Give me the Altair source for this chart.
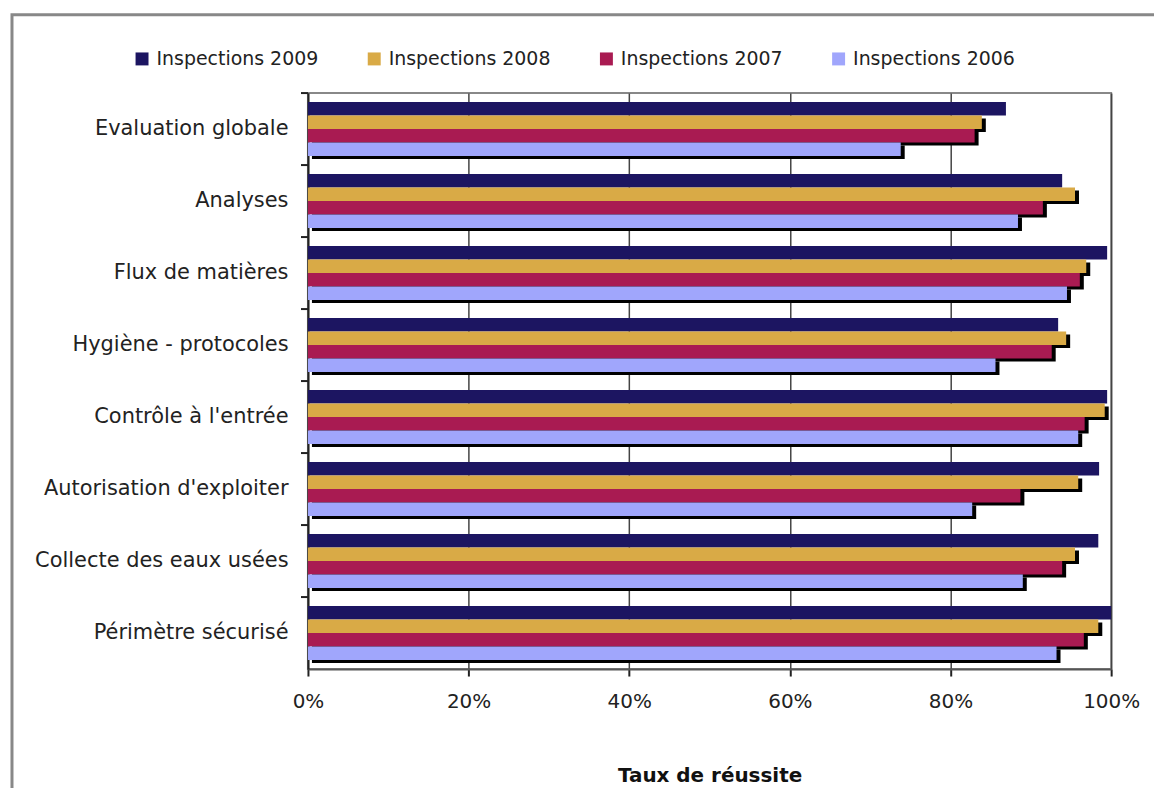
import altair as alt
import pandas as pd

categories = [
    "Evaluation globale",
    "Analyses",
    "Flux de matières",
    "Hygiène - protocoles",
    "Contrôle à l'entrée",
    "Autorisation d'exploiter",
    "Collecte des eaux usées",
    "Périmètre sécurisé",
]
series = ["Inspections 2009", "Inspections 2008", "Inspections 2007", "Inspections 2006"]
insp_2009 = [0.869, 0.939, 0.995, 0.934, 0.995, 0.985, 0.984, 1.000]
insp_2008 = [0.839, 0.955, 0.969, 0.944, 0.992, 0.959, 0.955, 0.984]
insp_2007 = [0.830, 0.915, 0.961, 0.926, 0.967, 0.887, 0.939, 0.966]
insp_2006 = [0.738, 0.884, 0.945, 0.856, 0.959, 0.827, 0.890, 0.932]
colors = ["#1c1561", "#d9aa46", "#a91b52", "#a0a6fc"]

rows = []
for s, vals in zip(series, [insp_2009, insp_2008, insp_2007, insp_2006]):
    for c, v in zip(categories, vals):
        rows.append({"categorie": c, "serie": s, "taux": v})
df = pd.DataFrame(rows)
cat_df = pd.DataFrame({"categorie": categories})

W, H = 806, 578
FONT = "DejaVu Sans"
step = H / 8.0
bw = step * 0.75

x_enc = alt.X(
    "taux:Q",
    scale=alt.Scale(domain=[0, 1], nice=False),
    axis=alt.Axis(
        format="%",
        values=[0, 0.2, 0.4, 0.6, 0.8, 1.0],
        title="Taux de réussite",
        titleFont=FONT,
        titleFontSize=20,
        titleFontWeight="bold",
        titleColor="#111",
        titlePadding=54,
        labelFont=FONT,
        labelFontSize=20,
        labelColor="#222",
        labelPadding=16,
        labelFlush=False,
        tickSize=7,
        tickColor="#222",
        tickWidth=2,
        domainColor="#555",
        domainWidth=2,
        grid=True,
        gridColor="#444",
        gridWidth=1.5,
    ),
)
y_enc = alt.Y(
    "categorie:N",
    sort=categories,
    scale=alt.Scale(paddingInner=0.25, paddingOuter=0.125),
    axis=alt.Axis(
        title=None,
        labelFont=FONT,
        labelFontSize=21,
        labelColor="#222",
        labelPadding=20,
        labelLimit=400,
        ticks=False,
        domainColor="#222",
        domainWidth=2,
    ),
)

base = alt.Chart(df)

shadow = (
    base.transform_filter(alt.datum.serie != "Inspections 2009")
    .mark_bar(color="black", xOffset=4)
    .encode(
        x=x_enc,
        y=y_enc,
        yOffset=alt.YOffset(
            "serie:N",
            sort=series,
            scale=alt.Scale(domain=series, range=[3, bw + 3], paddingInner=0, paddingOuter=0),
        ),
    )
)

bars = base.mark_bar(opacity=1).encode(
    x=x_enc,
    y=y_enc,
    yOffset=alt.YOffset(
        "serie:N",
        sort=series,
        scale=alt.Scale(domain=series, range=[0, bw], paddingInner=0, paddingOuter=0),
    ),
    color=alt.Color(
        "serie:N",
        sort=series,
        scale=alt.Scale(domain=series, range=colors),
        legend=alt.Legend(
            title=None,
            orient="none",
            legendX=-176,
            legendY=-44,
            direction="horizontal",
            symbolType="square",
            symbolSize=169,
            symbolStrokeWidth=0,
            labelFont=FONT,
            labelFontSize=19,
            labelColor="#222",
            labelOffset=5,
            labelLimit=300,
            columnPadding=46,
            padding=0,
        ),
    ),
)

cat_ticks = (
    alt.Chart(cat_df)
    .mark_rule(color="#222", strokeWidth=2, yOffset=-step * 0.125)
    .encode(
        y=alt.Y("categorie:N", sort=categories, bandPosition=0),
        x=alt.value(-7),
        x2=alt.value(0),
    )
)

frame = (
    alt.Chart(alt.Data(values=[{}]))
    .mark_rect(fillOpacity=0, stroke="#888888", strokeWidth=3)
    .encode(
        x=alt.value(-297),
        x2=alt.value(880),
        y=alt.value(-78.5),
        y2=alt.value(730),
    )
)

chart = (
    alt.layer(frame, shadow, bars, cat_ticks)
    .resolve_scale(yOffset="independent")
    .properties(
        width=W,
        height=H,
        autosize=alt.AutoSizeParams(type="none"),
        padding={"left": 301, "top": 84, "right": 43, "bottom": 118},
    )
    .configure_view(stroke="#888888", strokeWidth=2)
)

chart.save("out.html", embed_options={"renderer": "svg", "actions": False})
